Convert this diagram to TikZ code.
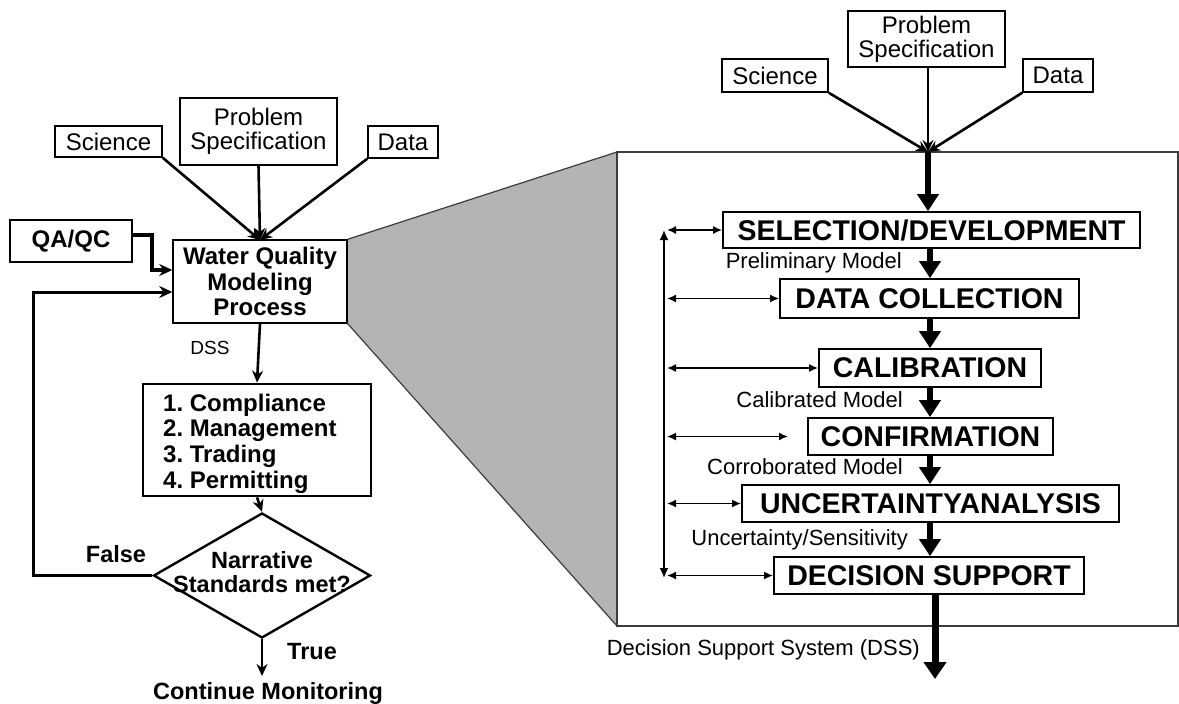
\documentclass[tikz,border=0pt]{standalone}
\usepackage{fontspec}
\setmainfont{Liberation Sans}
\usetikzlibrary{arrows.meta,shapes.geometric,calc}
\definecolor{panelgray}{RGB}{180,180,180}
\definecolor{edgegray}{RGB}{60,60,60}
\begin{document}
\frenchspacing
\begin{tikzpicture}[x=1pt,y=-1pt,
  box/.style={draw, line width=1.5pt, inner sep=0pt, align=center, font=\fontsize{24}{24}\selectfont},
  boldbox/.style={draw, line width=1.5pt, inner sep=0pt, align=center, font=\fontsize{24}{25.5}\selectfont\bfseries},
  stagebox/.style={draw, line width=1.8pt, inner sep=0pt, align=center, font=\fontsize{28.5}{30}\selectfont\bfseries},
  lbl/.style={inner sep=0pt, font=\fontsize{22}{22}\selectfont},
  blbl/.style={inner sep=0pt, font=\fontsize{23.5}{24}\selectfont\bfseries},
  flowarrow/.style={line width=2.6pt, -{Stealth[length=12pt,width=11pt]}},
  bigarrow/.style={line width=5.5pt, -{Triangle[length=17pt,width=21pt]}},
  sidearrow/.style={line width=1.6pt, {Latex[length=9pt,width=8pt]}-{Latex[length=9pt,width=8pt]}}
]
\useasboundingbox (0,0) rectangle (1179,704);

% ---------- magnifier panel ----------
\node[boldbox, minimum width=174pt, minimum height=83pt] (wq) at (260,281.5) {Water Quality\\Modeling\\Process};
\coordinate (ptl) at (617,152);
\coordinate (pbl) at (617,626);
\coordinate (ptr) at (1178,152);
\coordinate (pbr) at (1178,626);
\fill[panelgray] (wq.north east) -- (ptl) -- (pbl) -- (wq.south east) -- cycle;
\draw[edgegray, line width=1.2pt] (wq.north east) -- (ptl) (pbl) -- (wq.south east);
\draw[edgegray, line width=1.5pt] (ptl) rectangle (pbr);
\node[boldbox, minimum width=174pt, minimum height=83pt, fill=white] at (wq) {Water Quality\\Modeling\\Process};

% ---------- left flowchart ----------
\node[box, minimum width=107pt, minimum height=31pt] (sciL) at (108.5,141.5) {Science};
\node[box, minimum width=157pt, minimum height=67pt] (psL) at (258.5,131.5) {Problem\\Specification};
\node[box, minimum width=70pt, minimum height=32pt] (dataL) at (403,142) {Data};
\node[boldbox, line width=2.8pt, minimum width=122pt, minimum height=42pt] (qa) at (71,241) {QA/QC};
\node[draw, line width=2.8pt, inner sep=0pt, minimum width=228pt, minimum height=112pt] (comp) at (257,440) {};
\node[inner sep=0pt, anchor=west, align=left, font=\fontsize{24}{25.6}\selectfont\bfseries] (compt) at (163,443.5)
  {1. Compliance\\2. Management\\3. Trading\\4. Permitting};
\node[draw, diamond, line width=2.4pt, inner sep=0pt, minimum width=217pt, minimum height=125pt] (dia) at (262,575.5) {};
\node[blbl] (dia1) at (262,560) {Narrative};
\node[blbl] (dia2) at (262,584) {Standards met?};
\coordinate (cmon) at (262,676);
\node[blbl] (cont) at (268,693) {Continue Monitoring};
\node[lbl, font=\fontsize{19}{19}\selectfont] (dss) at (210,348) {DSS};
\node[blbl] (false) at (116,554) {False};
\node[blbl] (true) at (312,652) {True};

\coordinate (convL) at (260,240);
\draw[flowarrow] (sciL.south east) -- (convL);
\draw[flowarrow] (psL.south) -- (convL);
\draw[flowarrow] (dataL.south west) -- (convL);
\draw[line width=3.2pt, -{Stealth[length=13pt,width=12pt]}] (qa.east |- 0,235) -| (152,270) -- (wq.west |- 0,270);
\draw[line width=3pt, -{Stealth[length=13pt,width=12pt]}] (dia.west) -| (33,292) -- (wq.west |- 0,292);
\draw[flowarrow] (wq.south) -- (comp.north);
\draw[flowarrow] (comp.south) -- (dia.north);
\draw[flowarrow] (dia.south) -- (cmon);

% ---------- right flowchart ----------
\node[box, minimum width=106pt, minimum height=33pt] (sciR) at (775,75.5) {Science};
\node[box, minimum width=157pt, minimum height=56pt] (psR) at (926.5,39) {Problem\\Specification};
\node[box, minimum width=70pt, minimum height=33pt] (dataR) at (1058,75.5) {Data};
\coordinate (convR) at (928,152);
\draw[flowarrow] (sciR.south east) -- (convR);
\draw[flowarrow] (psR.south -| convR) -- (convR);
\draw[flowarrow] (dataR.south west) -- (convR);

\node[stagebox, minimum width=417pt, minimum height=36pt] (sel) at (931.5,230) {SELECTION/DEVELOPMENT};
\node[stagebox, minimum width=299pt, minimum height=39pt] (dc) at (929.5,298.5) {DATA COLLECTION};
\node[stagebox, minimum width=222pt, minimum height=38pt] (cal) at (930,368) {CALIBRATION};
\node[stagebox, minimum width=245pt, minimum height=37pt] (conf) at (930.5,436.5) {CONFIRMATION};
\node[stagebox, minimum width=377pt, minimum height=37pt] (unc) at (930.5,503.5) {UNCERTAINTYANALYSIS};
\node[stagebox, minimum width=310pt, minimum height=37pt] (dec) at (929,575.5) {DECISION SUPPORT};

\coordinate (ax) at (930,0);
\draw[bigarrow] (convR) -- (sel.north -| convR);
\draw[bigarrow] (sel.south -| ax) -- (dc.north -| ax);
\draw[bigarrow] (dc.south -| ax) -- (cal.north -| ax);
\draw[bigarrow] (cal.south -| ax) -- (conf.north -| ax);
\draw[bigarrow] (conf.south -| ax) -- (unc.north -| ax);
\draw[bigarrow] (unc.south -| ax) -- (dec.north -| ax);
\coordinate (dssend) at (935,679);
\draw[line width=7pt, -{Triangle[length=17pt,width=22pt]}] (dec.south -| dssend) -- (dssend);

\node[lbl, anchor=east] (l1) at (902,263) {Preliminary Model};
\node[lbl, anchor=east] (l2) at (903,400) {Calibrated Model};
\node[lbl, anchor=east] (l3) at (903,467) {Corroborated Model};
\node[lbl, anchor=east] (l4) at (908,540) {Uncertainty/Sensitivity};
\node[lbl, anchor=east] (l5) at (920,650) {Decision Support System (DSS)};

% side feedback arrows
\coordinate (vtop) at (664,230);
\coordinate (vbot) at (664,578);
\draw[line width=1.8pt, {Latex[length=10pt,width=9pt]}-{Latex[length=10pt,width=9pt]}] (vtop) -- (vbot);
\coordinate (vx) at (667,0);
\draw[sidearrow] (vx |- sel.west) -- (sel.west);
\draw[sidearrow] (vx |- dc.west) -- (dc.west);
\draw[sidearrow] (vx |- cal.west) -- (cal.west);
\coordinate (confend) at (788,436.5);
\draw[sidearrow] (vx |- conf.west) -- (confend);
\draw[sidearrow] (vx |- unc.west) -- (unc.west);
\draw[sidearrow] (vx |- dec.west) -- (dec.west);
\end{tikzpicture}
\end{document}
